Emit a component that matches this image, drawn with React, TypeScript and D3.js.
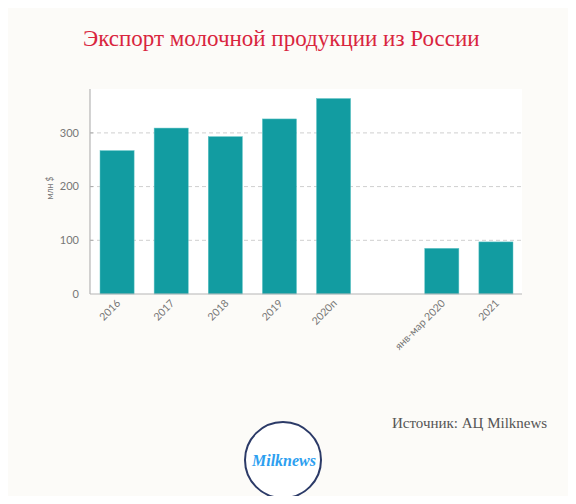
import * as d3 from 'd3';

const categories = ['2016', '2017', '2018', '2019', '2020п', '', 'янв-мар 2020', '2021'];
const values = [267, 309, 293, 326, 364, null, 85, 97];
const yTicks = [0, 100, 200, 300];

const W = 576;
const H = 504;
const margin = { top: 89, right: 54, bottom: 210, left: 90 };

export default function App() {
  const innerRight = W - margin.right;
  const base = H - margin.bottom;

  const x = d3.scaleBand<string>()
    .domain(categories.map((c, i) => c || `gap${i}`))
    .range([margin.left, innerRight + 1])
    .paddingInner(0.37)
    .paddingOuter(0.185);

  const y = d3.scaleLinear()
    .domain([0, 365])
    .range([base, 98]);

  const keyOf = (i: number) => categories[i] || `gap${i}`;

  return (
    <svg width={W} height={H} style={{ display: 'block', margin: '-8px', background: '#fcfbf8' }}>
      {/* plot area */}
      <rect x={margin.left} y={margin.top} width={innerRight - margin.left} height={base - margin.top} fill="#ffffff" />

      <text x={83} y={46} fill="#d9253e" fontFamily="'Liberation Serif', serif" fontSize={23}>
        Экспорт молочной продукции из России
      </text>

      {/* grid */}
      {yTicks.filter(t => t > 0).map(t => (
        <g key={t}>
          <line x1={margin.left} x2={innerRight} y1={y(t)} y2={y(t)} stroke="#cfcfcf" strokeDasharray="4,3" />
          <line x1={margin.left} x2={margin.left + 3} y1={y(t)} y2={y(t)} stroke="#aaa" />
        </g>
      ))}
      {yTicks.map(t => (
        <text key={t} x={79} y={y(t)} dy="0.35em" textAnchor="end" fill="#777" fontFamily="Lato, sans-serif" fontSize={11}>
          {t}
        </text>
      ))}
      <text transform={`translate(53,188) rotate(-90)`} textAnchor="middle" fill="#777" fontFamily="Lato, sans-serif" fontSize={8.5}>
        млн $
      </text>

      {/* bars */}
      {values.map((v, i) => v == null ? null : (
        <rect
          key={i}
          x={x(keyOf(i))}
          y={y(v)}
          width={x.bandwidth()}
          height={base - y(v)}
          fill="#129ca1"
          stroke="#5fc3c6"
          strokeWidth={0.5}
        />
      ))}

      {/* axes */}
      <line x1={margin.left} x2={margin.left} y1={margin.top} y2={base} stroke="#b5b5b5" strokeWidth={1.2} />
      <line x1={margin.left} x2={innerRight} y1={base} y2={base} stroke="#b5b5b5" strokeWidth={1.2} />

      {categories.map((c, i) => c ? (
        <text
          key={c}
          transform={`translate(${(x(keyOf(i)) ?? 0) + x.bandwidth() / 2 + 4},${base + 10}) rotate(-45)`}
          textAnchor="end"
          fill="#777"
          fontFamily="Lato, sans-serif"
          fontSize={10.5}
        >
          {c}
        </text>
      ) : null)}

      <text x={392} y={428} fill="#555" fontFamily="'Liberation Serif', serif" fontSize={15}>
        Источник: АЦ Milknews
      </text>

      {/* logo */}
      <circle cx={283} cy={460} r={38} fill="#ffffff" stroke="#2b3a67" strokeWidth={2} />
      <text x={284} y={466} textAnchor="middle" fill="#2d9ff0" fontFamily="'Liberation Serif', serif" fontStyle="italic" fontWeight="bold" fontSize={16}>
        Milknews
      </text>
    </svg>
  );
}
